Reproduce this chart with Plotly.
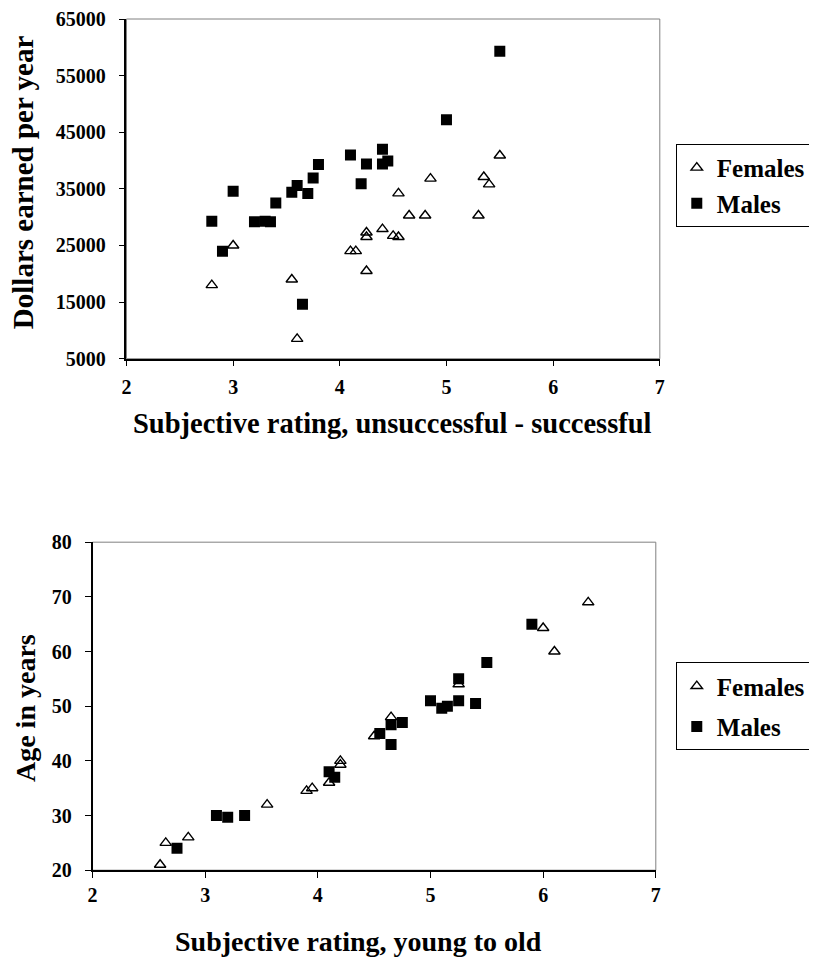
import plotly.graph_objects as go

# ---- Data: top chart (success rating vs income)
fem_success = [2.8, 3.0, 3.55, 3.6, 4.1, 4.15, 4.25, 4.25, 4.25, 4.4, 4.5, 4.55, 4.55, 4.65, 4.8, 4.85, 5.3, 5.35, 5.4, 5.5]
fem_income = [18000, 25000, 19000, 8500, 24000, 24000, 20500, 27300, 26500, 27900, 26700, 26500, 34200, 30300, 30300, 36800, 30300, 37100, 35800, 40900]
male_success = [2.8, 2.9, 3.0, 3.2, 3.3, 3.35, 3.4, 3.55, 3.6, 3.65, 3.7, 3.75, 3.8, 4.1, 4.2, 4.25, 4.4, 4.4, 4.45, 5.0, 5.5]
male_income = [29300, 24000, 34600, 29200, 29300, 29200, 32500, 34400, 35600, 14600, 34200, 36900, 39300, 41000, 35900, 39400, 42000, 39400, 39900, 47200, 59300]

# ---- Data: bottom chart (age rating vs age)
fem_agerating = [2.6, 2.65, 2.85, 3.55, 3.9, 3.95, 4.1, 4.2, 4.2, 4.5, 4.65, 5.25, 6.0, 6.1, 6.4]
fem_age = [21, 25, 26, 32, 34.5, 35, 36, 40, 39.3, 44.5, 48, 54, 64.3, 60, 69]
male_agerating = [2.75, 3.1, 3.2, 3.35, 4.1, 4.15, 4.55, 4.65, 4.65, 4.75, 5.0, 5.1, 5.15, 5.25, 5.25, 5.4, 5.5, 5.9]
male_age = [24, 30, 29.7, 30, 38, 37, 45, 46.6, 43, 47, 51, 49.6, 50, 51, 55, 50.5, 58, 65]

x_ticks = [2, 3, 4, 5, 6, 7]
top_y_ticks = [5000, 15000, 25000, 35000, 45000, 55000, 65000]
bot_y_ticks = [20, 30, 40, 50, 60, 70, 80]

W, H = 817, 959
FONT = "Liberation Serif"


# map target screen pixel -> figure pixel (compensates page offset/scale)
def fx(p):
    return p / 0.989 - 10.5


def fy(p):
    return p / 0.98 - 17.6


def px_x(p):
    return min(max(fx(p) / W, 0), 1)


def px_y(p):
    return min(max(1 - fy(p) / H, 0), 1)


def bold(vals):
    return ["<b>%s</b>" % v for v in vals]


fig = go.Figure()

tri = dict(symbol="triangle-up-open", size=10, color="black", line=dict(width=1.4, color="black"))
sq = dict(symbol="square", size=11, color="black")

fig.add_trace(go.Scatter(x=fem_success, y=fem_income, mode="markers", name="<b>Females</b>",
                         marker=tri, xaxis="x", yaxis="y", legend="legend", legendgroup="f1"))
fig.add_trace(go.Scatter(x=male_success, y=male_income, mode="markers", name="<b>Males</b>",
                         marker=sq, xaxis="x", yaxis="y", legend="legend", legendgroup="m1"))
fig.add_trace(go.Scatter(x=fem_agerating, y=fem_age, mode="markers", name="<b>Females</b>",
                         marker=tri, xaxis="x2", yaxis="y2", legend="legend2", legendgroup="f2"))
fig.add_trace(go.Scatter(x=male_agerating, y=male_age, mode="markers", name="<b>Males</b>",
                         marker=sq, xaxis="x2", yaxis="y2", legend="legend2", legendgroup="m2"))

tickfont = dict(family=FONT, size=20, color="black")
axis_common = dict(showgrid=False, zeroline=False, showline=True, linecolor="black", linewidth=1.5,
                   ticks="outside", ticklen=6, tickwidth=1.2, tickcolor="black", tickfont=tickfont)

legfont = dict(family=FONT, size=25, color="black")

fig.update_layout(
    width=W, height=H,
    margin=dict(l=0, r=0, t=0, b=0),
    font=dict(family=FONT, color="black", size=20),
    paper_bgcolor="white", plot_bgcolor="white",
    xaxis=dict(domain=[px_x(124), px_x(658)], range=[2, 7], tickvals=x_ticks, ticktext=bold(x_ticks),
               anchor="y", ticklabelstandoff=4, **axis_common),
    yaxis=dict(domain=[px_y(358), px_y(14)], range=[5000, 65000], tickvals=top_y_ticks,
               ticktext=bold(top_y_ticks), anchor="x", ticklabelstandoff=9, **axis_common),
    xaxis2=dict(domain=[px_x(90), px_x(654)], range=[2, 7], tickvals=x_ticks, ticktext=bold(x_ticks),
                anchor="y2", ticklabelstandoff=0, **axis_common),
    yaxis2=dict(domain=[px_y(871), px_y(542)], range=[20, 80], tickvals=bot_y_ticks,
                ticktext=bold(bot_y_ticks), anchor="x2", ticklabelstandoff=9, **axis_common),
    legend=dict(x=px_x(674), y=px_y(142.5), xanchor="left", yanchor="top",
                bordercolor="black", borderwidth=1, tracegroupgap=0, traceorder="grouped",
                font=legfont),
    legend2=dict(x=px_x(674), y=px_y(662.5), xanchor="left", yanchor="top",
                 bordercolor="black", borderwidth=1, tracegroupgap=5, traceorder="grouped",
                 font=legfont),
)

# grey plot-area frame (top and right borders)
for xr, yr in (("x domain", "y domain"), ("x2 domain", "y2 domain")):
    fig.add_shape(type="rect", xref=xr, yref=yr, x0=0, x1=1, y0=0, y1=1,
                  line=dict(color="#808080", width=1), layer="below")

title_font = dict(family=FONT, size=28, color="black")
fig.add_annotation(text="<b>Subjective rating, unsuccessful - successful</b>", xref="paper", yref="paper",
                   x=px_x(390), y=px_y(423), showarrow=False, font=dict(title_font, size=28.5),
                   xanchor="center", yanchor="middle")
fig.add_annotation(text="<b>Dollars earned per year</b>", xref="paper", yref="paper",
                   x=9.5 / W, y=px_y(180.5), showarrow=False, font=dict(title_font, size=29),
                   textangle=-90, xanchor="center", yanchor="middle")
fig.add_annotation(text="<b>Subjective rating, young to old</b>", xref="paper", yref="paper",
                   x=px_x(356), y=px_y(943), showarrow=False, font=title_font,
                   xanchor="center", yanchor="middle")
fig.add_annotation(text="<b>Age in years</b>", xref="paper", yref="paper",
                   x=12 / W, y=px_y(708.5), showarrow=False, font=title_font, textangle=-90,
                   xanchor="center", yanchor="middle")

fig.write_html("out.html")
